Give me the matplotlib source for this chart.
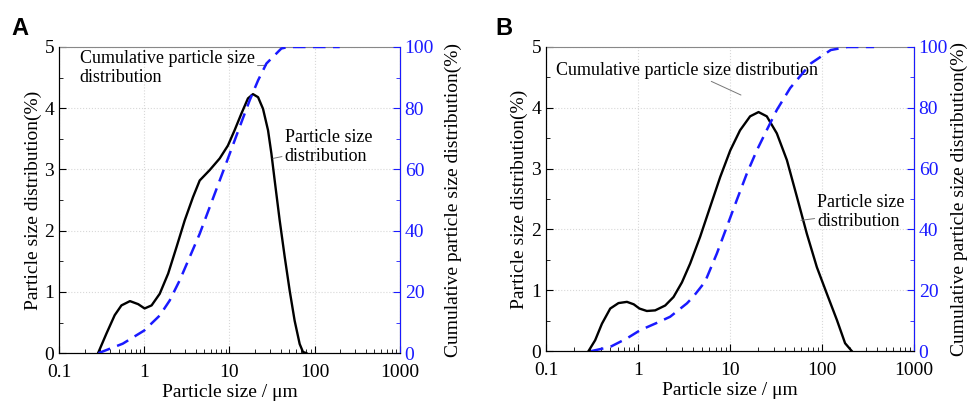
import matplotlib
matplotlib.use("Agg")
import matplotlib.pyplot as plt
from matplotlib.ticker import LogLocator, MultipleLocator, FixedLocator, FixedFormatter

plt.rcParams['font.family'] = ['Liberation Serif', 'DejaVu Serif']

# ---- panel A data ----
a_size = [0.287, 0.36, 0.45, 0.54, 0.68, 0.85, 1.01, 1.22, 1.52, 1.91, 2.39, 2.99, 3.74, 4.48,
          5.87, 7.69, 9.6, 11.5, 13.8, 16.5, 18.9, 21.7, 24.8, 28.4, 31.1, 34, 38.9, 44.6,
          51, 58.3, 66.8, 73, 80]
a_psd = [0, 0.32, 0.62, 0.78, 0.85, 0.80, 0.73, 0.78, 0.97, 1.30, 1.73, 2.17, 2.55, 2.82,
         2.99, 3.18, 3.39, 3.64, 3.91, 4.16, 4.23, 4.18, 3.99, 3.64, 3.26, 2.82, 2.17, 1.57,
         1.02, 0.53, 0.15, 0.02, 0]
a_cum_size = [0.29, 0.56, 1.0, 1.52, 1.99, 2.61, 3.42, 4.48, 5.87, 7.69, 10.1, 13.2, 17.3,
              21.7, 27.2, 40.7, 48.8, 197]
a_cum = [0, 3.1, 7.4, 12.3, 17.2, 23.8, 31.4, 39.0, 47.7, 56.4, 65.2, 73.9, 82.6,
         89.1, 94.6, 99.5, 100, 100]

# ---- panel B data ----
b_size = [0.29, 0.343, 0.406, 0.50, 0.615, 0.76, 0.90, 1.04, 1.25, 1.54, 1.98, 2.44, 3.01,
          3.70, 4.75, 6.1, 7.84, 10.1, 12.9, 16.6, 20.5, 25.2, 32.4, 41.7, 53.5, 68.7, 88.3,
          113, 146, 179, 212]
b_psd = [0, 0.18, 0.45, 0.70, 0.79, 0.81, 0.77, 0.70, 0.66, 0.67, 0.75, 0.89, 1.13,
         1.44, 1.88, 2.37, 2.86, 3.30, 3.63, 3.86, 3.93, 3.86, 3.58, 3.14, 2.54, 1.93, 1.38,
         0.95, 0.51, 0.13, 0]
b_cum_size = [0.31, 0.50, 0.76, 1.06, 1.61, 2.24, 3.41, 4.0, 5.37, 7.22, 9.27, 11.9, 15.3,
              19.7, 25.2, 32.4, 45.3, 76, 125, 190, 370]
b_cum = [0, 1.4, 4.2, 6.9, 9.3, 11.3, 15.7, 17.9, 22.8, 32.1, 40.9, 49.7, 58.4,
         66.1, 72.7, 79.3, 86.5, 94.6, 99.0, 100, 100]

x_ticks = [0.1, 1, 10, 100, 1000]
x_labels = ['0.1', '1', '10', '100', '1000']
blue = '#1a1aff'

fig = plt.figure(figsize=(9.68, 4.05), dpi=100)


def panel(rect, size, psd, cum_size, cum, letter, letter_x, ann1, ann2, rpad):
    ax = fig.add_axes(rect)
    ax.set_xscale('log')
    ax.set_xlim(0.1, 1000)
    ax.set_ylim(0, 5)
    ax.plot(size, psd, color='black', lw=1.7, zorder=3, solid_joinstyle='round')
    ax.grid(True, which='major', color='#d8d8d8', ls=':', lw=0.8)
    ax.xaxis.set_major_locator(FixedLocator(x_ticks))
    ax.xaxis.set_major_formatter(FixedFormatter(x_labels))
    ax.xaxis.set_minor_locator(LogLocator(base=10, subs=range(2, 10)))
    ax.yaxis.set_major_locator(MultipleLocator(1))
    ax.yaxis.set_minor_locator(MultipleLocator(0.5))
    ax.tick_params(which='both', direction='in', labelsize=14, top=False, right=False)
    ax.tick_params(which='major', length=5)
    ax.tick_params(which='minor', length=3)
    ax.tick_params(axis='x', pad=8)
    ax.set_xlabel('Particle size / μm', fontsize=14, labelpad=2)
    ax.set_ylabel('Particle size distribution(%)', fontsize=14, labelpad=2)
    ax.spines['top'].set_color('#888888')
    ax.spines['top'].set_linewidth(0.8)

    ax2 = ax.twinx()
    ax2.set_ylim(0, 100)
    ax2.plot(cum_size, cum, color=blue, lw=1.8, ls=(0, (5, 3)), zorder=3)
    ax2.yaxis.set_major_locator(MultipleLocator(20))
    ax2.yaxis.set_minor_locator(MultipleLocator(10))
    ax2.tick_params(which='both', direction='in', labelsize=14, colors=blue)
    ax2.tick_params(which='major', length=5)
    ax2.tick_params(which='minor', length=3)
    ax2.spines['right'].set_color(blue)
    ax2.spines['top'].set_visible(False)
    ax2.set_ylabel('Cumulative particle size distribution(%)', fontsize=14, color='black',
                   labelpad=rpad)

    for txt, xy, xytext in (ann1, ann2):
        ax.annotate(txt, xy=xy, xytext=xytext, fontsize=13, ha='left', va='center',
                    linespacing=1.15,
                    arrowprops=dict(arrowstyle='-', color='#777777', lw=0.7,
                                    shrinkA=0, shrinkB=0))
    fig.text(letter_x, 0.93, letter, fontsize=17, fontweight='bold',
             family='Liberation Sans', va='center')
    return ax


panel([0.061, 0.128, 0.352, 0.756], a_size, a_psd, a_cum_size, a_cum, 'A', 0.012,
      ('Cumulative particle size\ndistribution', (27.2, 4.70), (0.175, 4.66)),
      ('Particle size\ndistribution', (32.5, 3.18), (44.6, 3.37)), 8)
panel([0.564, 0.133, 0.380, 0.751], b_size, b_psd, b_cum_size, b_cum, 'B', 0.512,
      ('Cumulative particle size distribution', (13.2, 4.21), (0.128, 4.62)),
      ('Particle size\ndistribution', (59.2, 2.15), (89.5, 2.28)), 2)

fig.savefig('out.png', dpi=100)
